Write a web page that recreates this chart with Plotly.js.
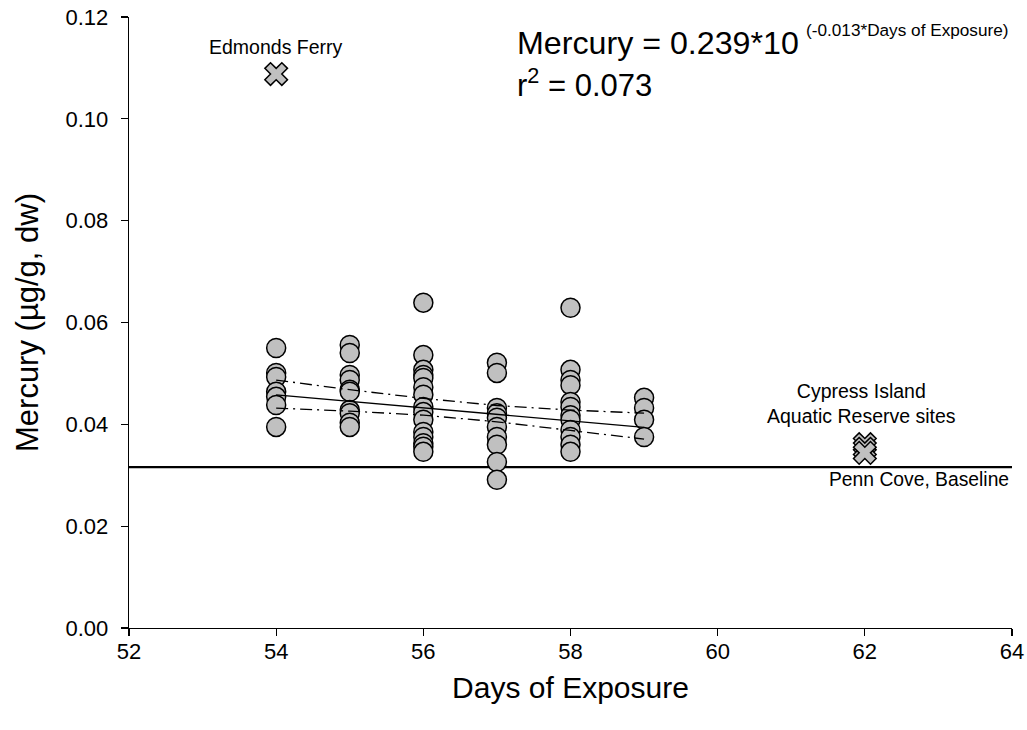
<!DOCTYPE html>
<html>
<head>
<meta charset="utf-8">
<script src="https://cdn.plot.ly/plotly-3.0.1.min.js"></script>
<style>html,body{margin:0;padding:0;background:#fff;}#chart{width:1027px;height:730px;}</style>
</head>
<body>
<div id="chart"></div>
<script>
// Mussel samples: days of exposure and mercury (ug/g dw)
const sampleDays = [
  54,54,54,54,54,54,54,
  55,55,55,55,55,55,55,55,55,55,
  56,56,56,56,56,56,56,56,56,56,56,56,56,56,56,
  57,57,57,57,57,57,57,57,57,57,
  58,58,58,58,58,58,58,58,58,58,58,58,
  59,59,59,59
];
const sampleMercury = [
  0.0550,0.0501,0.0493,0.0464,0.0454,0.0438,0.0395,
  0.0556,0.0540,0.0497,0.0487,0.0468,0.0464,0.0428,0.0422,0.0403,0.0395,
  0.0639,0.0536,0.0507,0.0497,0.0491,0.0473,0.0458,0.0434,0.0424,0.0409,0.0385,0.0375,0.0363,0.0356,0.0346,
  0.0521,0.0501,0.0432,0.0422,0.0413,0.0395,0.0375,0.0360,0.0326,0.0291,
  0.0629,0.0507,0.0487,0.0477,0.0444,0.0434,0.0418,0.0409,0.0389,0.0375,0.0360,0.0346,
  0.0452,0.0432,0.0409,0.0375
];
// Reference sites
const edmondsDays = [54];
const edmondsMercury = [0.1088];
const cypressDays = [62, 62, 62];
const cypressMercury = [0.0361, 0.0352, 0.0344];
// Penn Cove baseline
const baselineDays = [52, 64];
const baselineMercury = [0.0316, 0.0316];
// Regression line and confidence bands
const fitDays = [54, 55, 56, 57, 58, 59];
const fitMercury = [0.0458, 0.0445, 0.0432, 0.0419, 0.0406, 0.0394];
const upperMercury = [0.0487, 0.0468, 0.0451, 0.0437, 0.0428, 0.0422];
const lowerMercury = [0.0432, 0.0426, 0.0418, 0.0405, 0.0388, 0.0371];
// Axis ticks
const xTicks = [52, 54, 56, 58, 60, 62, 64];
const yTicks = [0, 0.02, 0.04, 0.06, 0.08, 0.10, 0.12];
const yTickText = ['0.00','0.02','0.04','0.06','0.08','0.10','0.12'];

const FONT = 'Arial, "Liberation Sans", sans-serif';
const grey = '#c0c0c0';
const xMark = {symbol: 'x', size: 20, color: grey, line: {color: '#000', width: 1.5}};

const traces = [
  {x: baselineDays, y: baselineMercury, mode: 'lines', line: {color: '#000', width: 2.2}},
  {x: sampleDays, y: sampleMercury, mode: 'markers',
   marker: {symbol: 'circle', size: 19, color: grey, line: {color: '#000', width: 1.5}}},
  {x: fitDays, y: fitMercury, mode: 'lines', line: {color: '#000', width: 1.3}},
  {x: fitDays, y: upperMercury, mode: 'lines', line: {color: '#000', width: 1.3, dash: '12px,5px,2px,5px'}},
  {x: fitDays, y: lowerMercury, mode: 'lines', line: {color: '#000', width: 1.3, dash: '12px,5px,2px,5px'}},
  {x: edmondsDays, y: edmondsMercury, mode: 'markers', marker: xMark},
  {x: cypressDays, y: cypressMercury, mode: 'markers', marker: xMark}
];

const layout = {
  width: 1027, height: 730,
  margin: {l: 129, r: 15, t: 17, b: 102},
  paper_bgcolor: '#fff', plot_bgcolor: '#fff',
  showlegend: false,
  font: {family: FONT, color: '#000'},
  xaxis: {
    range: [52, 64], tickvals: xTicks, ticktext: xTicks.map(String),
    showgrid: false, zeroline: false, showline: true, linecolor: '#000', linewidth: 1.3,
    ticks: 'outside', ticklen: 7, tickcolor: '#000', tickwidth: 1.3, ticklabelstandoff: -4,
    tickfont: {family: FONT, size: 22, color: '#000'},
    title: {text: 'Days of Exposure', font: {family: FONT, size: 30, color: '#000'}, standoff: 14}
  },
  yaxis: {
    range: [0, 0.12], tickvals: yTicks, ticktext: yTickText,
    showgrid: false, zeroline: false, showline: true, linecolor: '#000', linewidth: 1.3,
    ticks: 'outside', ticklen: 7, tickcolor: '#000', tickwidth: 1.3, ticklabelstandoff: 8,
    tickfont: {family: FONT, size: 22, color: '#000'},
    title: {text: 'Mercury (µg/g, dw)', font: {family: FONT, size: 31, color: '#000'}, standoff: 17}
  },
  annotations: [
    {x: 54, y: 0.1141, xref: 'x', yref: 'y', text: 'Edmonds Ferry', showarrow: false,
     font: {family: FONT, size: 19.5, color: '#000'}},
    {x: 61.95, y: 0.0441, xref: 'x', yref: 'y', text: 'Cypress Island<br>Aquatic Reserve sites', showarrow: false,
     font: {family: FONT, size: 19.5, color: '#000'}, align: 'center'},
    {x: 62.73, y: 0.0292, xref: 'x', yref: 'y', text: 'Penn Cove, Baseline', showarrow: false,
     font: {family: FONT, size: 19.3, color: '#000'}},
    {x: 57.25, y: 0.1149, xref: 'x', yref: 'y', xanchor: 'left', yanchor: 'middle',
     text: 'Mercury = 0.239*10', showarrow: false,
     font: {family: FONT, size: 32.2, color: '#000'}},
    {x: 61.18, y: 0.1174, xref: 'x', yref: 'y', xanchor: 'left', yanchor: 'middle',
     text: '(-0.013*Days of Exposure)', showarrow: false,
     font: {family: FONT, size: 17.2, color: '#000'}},
    {x: 57.25, y: 0.1070, xref: 'x', yref: 'y', xanchor: 'left', yanchor: 'middle',
     text: 'r<sup>2</sup> = 0.073', showarrow: false,
     font: {family: FONT, size: 31, color: '#000'}}
  ]
};

Plotly.newPlot('chart', traces, layout, {displayModeBar: false, staticPlot: true});
</script>
</body>
</html>
